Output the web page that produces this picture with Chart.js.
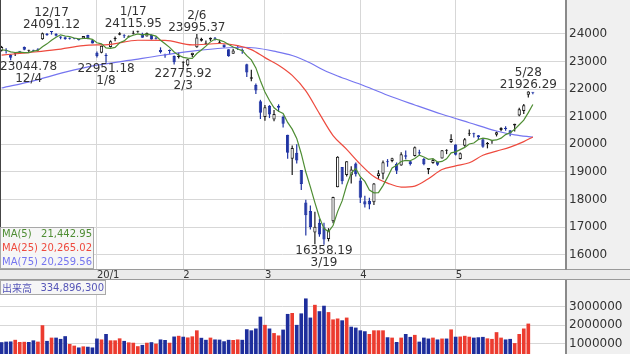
<!DOCTYPE html>
<html>
<head>
<meta charset="utf-8">
<script src="https://cdn.jsdelivr.net/npm/chart.js@4.4.1/dist/chart.umd.min.js"></script>
<style>
  html, body { margin: 0; padding: 0; background: #fff; overflow: hidden; }
  #wrap { position: relative; width: 630px; height: 354px; }
  #priceChart { position: absolute; left: 0; top: 0; }
  #volumeChart { position: absolute; left: 0; top: 280px; }
</style>
</head>
<body>
<div id="wrap">
  <canvas id="priceChart" width="630" height="280"></canvas>
  <canvas id="volumeChart" width="630" height="74"></canvas>
</div>
<script>
// trading days, Dec 2019 - May 2020
const monthNums = [12, 1, 2, 3, 4, 5];
const monthDays = [
  [2, 3, 4, 5, 6, 9, 10, 11, 12, 13, 16, 17, 18, 19, 20, 23, 24, 25, 26, 27, 30],
  [6, 7, 8, 9, 10, 14, 15, 16, 17, 20, 21, 22, 23, 24, 27, 28, 29, 30, 31],
  [3, 4, 5, 6, 7, 10, 12, 13, 14, 17, 18, 19, 20, 21, 25, 26, 27, 28],
  [2, 3, 4, 5, 6, 9, 10, 11, 12, 13, 16, 17, 18, 19, 23, 24, 25, 26, 27, 30, 31],
  [1, 2, 3, 6, 7, 8, 9, 10, 13, 14, 15, 16, 17, 20, 21, 22, 23, 24, 27, 28, 30],
  [1, 7, 8, 11, 12, 13, 14, 15, 18, 19, 20, 21, 22, 25, 26, 27, 28, 29]
];
const monthLabels = ['20/1', '2', '3', '4', '5'];

const opens = [
  23388, 23414, 23248, 23285, 23358, 23526, 23390, 23398, 23450, 23803,
  24005, 24083, 24007, 23911, 23876, 23864, 23850, 23785, 23832, 23960,
  23770, 23319, 23320, 23217, 23530, 23813, 23969, 23940, 23900, 24003,
  24078, 24010, 23911, 23968, 23852, 23419, 23235, 23387, 23199, 23162,
  22960, 22868, 23240, 23520, 23753, 23640, 23800, 23850, 23683, 23617,
  23442, 23280, 23503, 23430, 22903, 22380, 22150, 21557, 20990, 21400,
  20897, 21400, 20990, 20343, 19474, 19690, 19064, 17893, 17586, 16800,
  17154, 16995, 16570, 17207, 18446, 19176, 18885, 18880, 19300, 18686,
  17934, 17951, 17901, 18848, 18934, 19366, 19392, 19294, 19232, 19600,
  19386, 19572, 19711, 19466, 19078, 19326, 19354, 19489, 19769, 20080,
  19991, 19468, 19950, 20367, 20384, 20326, 20180, 20011, 20111, 20350,
  20520, 20600, 20505, 20680, 21040, 21204, 21800, 21870
];
const highs = [
  23566, 23480, 23270, 23331, 23386, 23543, 23430, 23426, 23479, 24050,
  24030, 24091.12, 24025, 23914, 23910, 23870, 23852, 23810, 23924, 23967,
  23782, 23365, 23577, 23303, 23767, 23903, 24059, 23985, 23941, 24115.95,
  24111, 24046, 24052, 23981, 23905, 23513, 23281, 23436, 23220, 23323,
  23007, 23084, 23320, 23995.37, 23861, 23760, 23872, 23889, 23788, 23621,
  23443, 23466, 23596, 23472, 22922, 22702, 22207, 21612, 21420, 21420,
  21245, 21450, 21041, 20347, 19955, 20000, 19064, 17991, 17785, 17557,
  17300, 17160, 16960, 18100, 19564, 19176, 19389, 19200, 19336, 18784,
  18132, 18059, 18595, 19059, 19415, 19463, 19510, 19343, 19708, 19777,
  19401, 19922, 19805, 19500, 19139, 19476, 19371, 19795, 19820, 20365,
  20000, 19700, 20227, 20534, 20416, 20341, 20181, 20083, 20142, 20465,
  20620, 20650, 20505, 20744, 21328, 21461, 21926.29, 21890
];
const lows = [
  23366, 23294, 23044.78, 23201, 23290, 23412, 23349, 23363, 23357, 23790,
  23930, 23976, 23904, 23806, 23786, 23800, 23805, 23765, 23815, 23810,
  23656, 23148, 23299, 22951.18, 23506, 23739, 23951, 23850, 23868, 23978,
  24046, 23861, 23908, 23795, 23798, 23295, 23137, 23265, 22892, 23111,
  22775.92, 22826, 23165, 23497, 23722, 23621, 23746, 23764, 23637, 23488,
  23175, 23278, 23420, 23280, 22437, 22281, 21823, 20916, 20849, 20950,
  20834, 21180, 20613, 19474, 18891, 19300, 18339, 16690, 16914, 16378,
  16650, 16358.19, 16480, 17141, 18446, 18553, 18831, 18578, 18834, 17871,
  17707, 17646, 17802, 18745, 18735, 19187, 19345, 18922, 19225, 19459,
  19228, 19559, 19611, 19238, 18918, 19298, 19219, 19485, 19643, 20050,
  19590, 19448, 19911, 20304, 20246, 20160, 19873, 19853, 20020, 20285,
  20475, 20489, 20290, 20468, 21014, 21101, 21700, 21810
];
const closes = [
  23529, 23379, 23135, 23300, 23354, 23430, 23410, 23391, 23424, 24023,
  23952, 24066, 23934, 23864, 23816, 23821, 23830, 23782, 23924, 23837,
  23656, 23204, 23575, 23204, 23739, 23850, 24025, 23916, 23933, 24041,
  24083, 23864, 24031, 23795, 23827, 23343, 23215, 23379, 22977, 23205,
  22971, 23084, 23319, 23873, 23827, 23685, 23861, 23827, 23687, 23523,
  23193, 23400, 23479, 23386, 22605, 22426, 21948, 21142, 21344, 21082,
  21100, 21329, 20749, 19698, 19867, 19416, 18559, 17431, 17002, 17011,
  16726, 16552, 16887, 18092, 19546, 18664, 19389, 19084, 18917, 18065,
  17818, 17820, 18576, 18950, 19353, 19345, 19498, 19043, 19638, 19550,
  19290, 19897, 19669, 19280, 19137, 19429, 19262, 19783, 19771, 20193,
  19619, 19674, 20179, 20390, 20366, 20267, 19914, 20037, 20133, 20433,
  20595, 20552, 20388, 20741, 21271, 21419, 21916, 21867
];
// volume, thousands of shares
const volumes = [
  1050000, 1080000, 1090000, 1180000, 1060000, 1070000, 1060000, 1150000, 1080000, 1980000,
  1120000, 1300000, 1300000, 1230000, 1380000, 950000, 860000, 760000, 820000, 800000,
  760000, 1250000, 1200000, 1500000, 1150000, 1150000, 1260000, 1120000, 1040000, 1020000,
  830000, 900000, 1020000, 1050000, 970000, 1200000, 1170000, 1020000, 1360000, 1400000,
  1350000, 1310000, 1370000, 1700000, 1290000, 1180000, 1300000, 1200000, 1190000, 1100000,
  1180000, 1170000, 1200000, 1180000, 1760000, 1700000, 1800000, 2450000, 2000000, 1800000,
  1550000, 1420000, 1740000, 2600000, 2650000, 2000000, 2630000, 3450000, 2400000, 3100000,
  2750000, 3050000, 2700000, 2300000, 2350000, 2250000, 2400000, 1900000, 1850000, 1700000,
  1650000, 1500000, 1700000, 1700000, 1700000, 1320000, 1300000, 1060000, 1300000, 1500000,
  1340000, 1450000, 1080000, 1300000, 1250000, 1300000, 1200000, 1250000, 1250000, 1750000,
  1350000, 1360000, 1400000, 1350000, 1300000, 1320000, 1340000, 1260000, 1230000, 1600000,
  1300000, 1200000, 1230000, 1000000, 1500000, 1800000, 2070000, 334896.3
];

const ma5 = [
  23421, 23409, 23349, 23327, 23339, 23320, 23326, 23377, 23402, 23536,
  23640, 23771, 23880, 23968, 23926, 23900, 23853, 23823, 23835, 23839,
  23806, 23681, 23639, 23495, 23476, 23514, 23679, 23747, 23893, 23953,
  24000, 23967, 23990, 23963, 23920, 23772, 23642, 23512, 23348, 23224,
  23149, 23123, 23111, 23290, 23415, 23558, 23713, 23815, 23777, 23717,
  23618, 23526, 23456, 23396, 23213, 23059, 22769, 22301, 21893, 21588,
  21323, 21199, 21121, 20792, 20549, 20212, 19658, 18994, 18455, 17884,
  17346, 16944, 16836, 17054, 17561, 17948, 18516, 18955, 19120, 18824,
  18655, 18341, 18239, 18246, 18503, 18809, 19144, 19238, 19375, 19415,
  19404, 19484, 19609, 19537, 19455, 19482, 19355, 19378, 19476, 19688,
  19726, 19808, 19887, 20011, 20046, 20175, 20223, 20195, 20143, 20157,
  20222, 20350, 20420, 20542, 20709, 20874, 21147, 21442.95
];
const ma25Days = [0, 6, 12, 18, 24, 30, 36, 42, 48, 52, 55, 58, 61, 64, 67, 70, 73, 76, 79, 82, 85, 88, 91, 94, 97, 100, 103, 106, 109, 112, 115, 117];
const ma25 = [23233, 23325, 23429, 23577, 23623, 23772, 23764, 23600, 23654, 23577, 23431, 23141, 22866, 22496, 21937, 21112, 20318, 19817, 19281, 18829, 18594, 18450, 18486, 18751, 19084, 19215, 19329, 19603, 19752, 19898, 20096, 20265.02];
const ma75Days = [0, 7, 14, 21, 28, 35, 42, 49, 53, 56, 60, 64, 68, 71, 74, 79, 85, 91, 97, 103, 109, 113, 117];
const ma75 = [22040, 22301, 22613, 22868, 23039, 23219, 23375, 23491, 23517, 23490, 23374, 23219, 22946, 22684, 22476, 22175, 21778, 21426, 21087, 20782, 20482, 20341, 20259.56];

const priceTicks = [16000, 17000, 18000, 19000, 20000, 21000, 22000, 23000, 24000];
const volumeTicks = [1000000, 2000000, 3000000];

// high / low markers
const markDays = [2, 11, 23, 29, 40, 43, 71, 116];
const markKinds = ['low', 'high', 'low', 'high', 'low', 'high', 'low', 'high'];

const dates = monthNums.flatMap((m, k) => monthDays[k].map(d => m + '/' + d));
let count = 0;
const monthStarts = monthDays.map(list => { const s = count; count += list.length; return s; }).slice(1);

const candleBlue = '#1f33a3';
const candleDark = '#1a1a1a';
const volRed = '#ec3b2f';
const volBlue = '#1e2e9c';
const maGreen = '#4e8d33';
const maRed = '#ee4a3e';
const maBlue = '#7575f0';
const gridColor = '#d7d7d7';
const axisGray = '#8a8a8a';
const font = '"DejaVu Sans", sans-serif';

Chart.defaults.font.family = font;

const xMin = -0.35;
const xMax = 124.3;

const strokeColors = closes.map((c, i) => c >= opens[i] ? candleDark : candleBlue);
const bodyColors = closes.map((c, i) => c >= opens[i] ? '#fff' : candleBlue);
const volColors = closes.map((c, i) => i > 0 && c > closes[i - 1] ? volRed : volBlue);

function zeroPad(s) {
  s.paddingTop = 0; s.paddingBottom = 0; s.paddingLeft = 0; s.paddingRight = 0;
}

function fmt(v) {
  return v.toLocaleString('en-US', { minimumFractionDigits: 2, maximumFractionDigits: 2 });
}

const priceBackground = {
  id: 'priceBackground',
  beforeDraw(chart) {
    const { ctx, chartArea: a, width, height } = chart;
    ctx.save();
    ctx.fillStyle = '#fff';
    ctx.fillRect(0, 0, width, height);
    ctx.fillStyle = '#f0f0f0';
    ctx.fillRect(a.right, 0, width - a.right, a.bottom);
    ctx.fillStyle = '#ebebeb';
    ctx.fillRect(0, a.bottom, width, height - a.bottom);
    ctx.strokeStyle = '#9a9a9a';
    ctx.lineWidth = 1;
    ctx.beginPath();
    ctx.moveTo(0, a.bottom + 0.5);
    ctx.lineTo(width, a.bottom + 0.5);
    ctx.moveTo(0, height - 0.5);
    ctx.lineTo(width, height - 0.5);
    ctx.stroke();
    ctx.restore();
  },
  afterDraw(chart) {
    const { ctx, chartArea: a, scales: { x, y } } = chart;
    ctx.save();

    // left border
    ctx.strokeStyle = '#444';
    ctx.lineWidth = 1;
    ctx.beginPath();
    ctx.moveTo(0.5, 0);
    ctx.lineTo(0.5, a.bottom - 42);
    ctx.stroke();

    // high / low labels
    ctx.font = '12px ' + font;
    ctx.fillStyle = '#333';
    ctx.textAlign = 'center';
    ctx.textBaseline = 'middle';
    markDays.forEach((d, k) => {
      const isHigh = markKinds[k] === 'high';
      const value = isHigh ? highs[d] : lows[d];
      const text = value.toFixed(2);
      const py = y.getPixelForValue(value);
      const half = Math.max(ctx.measureText(text).width, ctx.measureText(dates[d]).width) / 2;
      let cx = x.getPixelForValue(d);
      cx = Math.min(Math.max(cx, a.left + half), a.right - half);
      if (isHigh) {
        ctx.fillText(text, cx, py - 6.5);
        ctx.fillText(dates[d], cx, py - 18.5);
      } else {
        ctx.fillText(text, cx, py + 6.5);
        ctx.fillText(dates[d], cx, py + 18.5);
      }
    });

    // moving average legend
    const top = a.bottom - 42;
    ctx.fillStyle = 'rgba(246,246,246,0.95)';
    ctx.fillRect(0, top, 94, 42);
    ctx.strokeStyle = '#a8a8a8';
    ctx.strokeRect(0.5, top + 0.5, 93, 41);
    const rows = [
      ['MA(5)', ma5[ma5.length - 1], maGreen],
      ['MA(25)', ma25[ma25.length - 1], maRed],
      ['MA(75)', ma75[ma75.length - 1], maBlue]
    ];
    ctx.font = '10px ' + font;
    rows.forEach((r, k) => {
      const ty = top + 7.5 + k * 14;
      ctx.fillStyle = r[2];
      ctx.textAlign = 'left';
      ctx.fillText(r[0], 2, ty);
      ctx.textAlign = 'right';
      ctx.fillText(fmt(r[1]), 92, ty);
    });
    ctx.restore();
  }
};

const volumeBackground = {
  id: 'volumeBackground',
  beforeDraw(chart) {
    const { ctx, chartArea: a, width, height } = chart;
    ctx.save();
    ctx.fillStyle = '#fff';
    ctx.fillRect(0, 0, width, height);
    ctx.fillStyle = '#f0f0f0';
    ctx.fillRect(a.right, 0, width - a.right, height);
    ctx.restore();
  },
  afterDraw(chart) {
    const { ctx } = chart;
    ctx.save();
    ctx.fillStyle = 'rgba(246,246,246,0.95)';
    ctx.fillRect(0, 0, 106, 15);
    ctx.strokeStyle = '#a8a8a8';
    ctx.lineWidth = 1;
    ctx.strokeRect(0.5, 0.5, 105, 14);
    ctx.fillStyle = '#5656b8';
    ctx.textBaseline = 'middle';
    ctx.textAlign = 'left';
    ctx.font = '10px "Noto Sans CJK JP", sans-serif';
    ctx.fillText('出来高', 2, 8);
    ctx.textAlign = 'right';
    ctx.font = '10px ' + font;
    ctx.fillText(Math.round(volumes[volumes.length - 1] * 1000).toLocaleString('en-US'), 104, 8);
    ctx.restore();
  }
};

function xScale(showLabels) {
  return {
    type: 'linear',
    min: xMin,
    max: xMax,
    offset: false,
    afterBuildTicks: s => { s.ticks = monthStarts.map(v => ({ value: v })); },
    afterFit: s => { s.height = showLabels ? 11 : 0; zeroPad(s); },
    ticks: {
      display: showLabels,
      autoSkip: false,
      maxRotation: 0,
      align: 'start',
      padding: 0,
      color: '#333',
      font: { size: 10 },
      callback: (v, i) => monthLabels[i]
    },
    grid: { color: gridColor, drawTicks: false, offset: false },
    border: { display: false }
  };
}

function yScale(min, max, ticks) {
  return {
    position: 'right',
    min: min,
    max: max,
    afterBuildTicks: s => { s.ticks = ticks.map(v => ({ value: v })); },
    afterFit: s => { s.width = 64; zeroPad(s); },
    ticks: { color: '#333', padding: 3, font: { size: 12 }, callback: v => String(v) },
    grid: { color: gridColor, drawTicks: false },
    border: { color: axisGray, width: 2 }
  };
}

new Chart(document.getElementById('priceChart').getContext('2d'), {
  type: 'bar',
  data: {
    datasets: [
      {
        type: 'line',
        data: ma5.map((v, i) => ({ x: i, y: v })),
        borderColor: maGreen,
        borderWidth: 1.2,
        pointRadius: 0,
        order: 0
      },
      {
        type: 'line',
        data: ma25Days.map((d, k) => ({ x: d, y: ma25[k] })),
        borderColor: maRed,
        borderWidth: 1.2,
        pointRadius: 0,
        cubicInterpolationMode: 'monotone',
        order: 0
      },
      {
        type: 'line',
        data: ma75Days.map((d, k) => ({ x: d, y: ma75[k] })),
        borderColor: maBlue,
        borderWidth: 1.2,
        pointRadius: 0,
        cubicInterpolationMode: 'monotone',
        order: 0
      },
      {
        // candle bodies
        data: opens.map((o, i) => ({ x: i, y: [o, closes[i]] })),
        backgroundColor: bodyColors,
        borderColor: strokeColors,
        borderWidth: 1,
        borderSkipped: false,
        grouped: false,
        maxBarThickness: 4.4,
        minBarLength: 1,
        order: 1
      },
      {
        // wicks
        data: lows.map((l, i) => ({ x: i, y: [l, highs[i]] })),
        backgroundColor: strokeColors,
        grouped: false,
        maxBarThickness: 1.2,
        order: 2
      }
    ]
  },
  options: {
    responsive: false,
    animation: false,
    events: [],
    layout: { padding: 0 },
    plugins: { legend: { display: false }, tooltip: { enabled: false } },
    scales: {
      x: xScale(true),
      y: yScale(15480, 25230, priceTicks)
    }
  },
  plugins: [priceBackground]
});

new Chart(document.getElementById('volumeChart').getContext('2d'), {
  type: 'bar',
  data: {
    datasets: [{
      data: volumes.map((v, i) => ({ x: i, y: v })),
      backgroundColor: volColors,
      barThickness: 3
    }]
  },
  options: {
    responsive: false,
    animation: false,
    events: [],
    layout: { padding: 0 },
    plugins: { legend: { display: false }, tooltip: { enabled: false } },
    scales: {
      x: xScale(false),
      y: yScale(420000, 4480000, volumeTicks)
    }
  },
  plugins: [volumeBackground]
});
</script>
</body>
</html>
